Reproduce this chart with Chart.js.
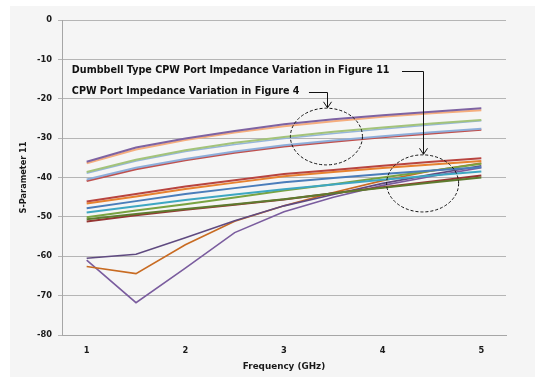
<!DOCTYPE html>
<html>
<head>
<meta charset="utf-8">
<script src="https://cdn.jsdelivr.net/npm/chart.js@4.4.1/dist/chart.umd.min.js"></script>
<style>
  html, body { margin: 0; padding: 0; background: #ffffff; }
  #frame { position: absolute; left: 10px; top: 6px; width: 525px; height: 371px; background: #f5f5f5; }
  canvas { display: block; }
</style>
</head>
<body>
<div id="frame"><canvas id="chart" width="525" height="371"></canvas></div>
<script>
// Frequency sweep points (GHz)
const freqGHz = [1, 1.5, 2, 2.5, 3, 3.5, 4, 4.5, 5];
const xTickValues = [1, 2, 3, 4, 5];
const yTickValues = [0, -10, -20, -30, -40, -50, -60, -70, -80];

// CPW port impedance variation (Figure 4) - S11 in dB
const cpwPurple     = [-36.0, -32.4, -30.1, -28.2, -26.5, -25.2, -24.2, -23.3, -22.4];
const cpwPeach      = [-36.4, -32.9, -30.5, -28.6, -27.0, -25.7, -24.6, -23.7, -22.9];
const cpwGreen      = [-38.6, -35.5, -33.1, -31.2, -29.7, -28.4, -27.3, -26.3, -25.4];
const cpwSkyBlue    = [-38.9, -35.8, -33.4, -31.6, -30.1, -28.8, -27.7, -26.6, -25.6];
const cpwBlue       = [-40.5, -37.5, -35.3, -33.4, -31.8, -30.6, -29.5, -28.5, -27.6];
const cpwRed        = [-40.9, -37.9, -35.6, -33.7, -32.1, -30.9, -29.8, -28.8, -27.9];

// Dumbbell type CPW port impedance variation (Figure 11) - S11 in dB
const dbRed         = [-46.1, -44.2, -42.3, -40.7, -39.1, -38.1, -37.0, -36.0, -35.1];
const dbOrange      = [-46.6, -44.8, -42.9, -41.3, -39.7, -38.6, -37.6, -36.7, -35.8];
const dbBlue        = [-47.8, -46.0, -44.2, -42.7, -41.2, -40.1, -39.1, -38.2, -37.4];
const dbCyan        = [-48.9, -47.3, -45.7, -44.3, -43.0, -41.8, -40.6, -39.5, -38.5];
const dbGreen       = [-50.1, -48.4, -46.8, -45.1, -43.3, -41.7, -40.0, -38.3, -36.5];
const dbOlive       = [-50.6, -49.3, -48.0, -46.8, -45.5, -44.0, -42.6, -41.3, -40.0];
const dbDarkRed     = [-51.2, -49.6, -48.2, -46.9, -45.6, -44.0, -42.5, -41.0, -39.5];
const dbPurpleDark  = [-60.5, -59.5, -55.3, -51.0, -47.2, -44.3, -41.5, -39.2, -37.0];
const dbBurntOrange = [-62.6, -64.4, -57.1, -51.1, -47.2, -43.8, -40.8, -38.3, -36.3];
const dbPurple      = [-61.0, -71.8, -63.0, -54.0, -48.7, -45.0, -42.0, -39.7, -37.5];

// Annotation captions and their anchors (data units)
const noteDumbbell = 'Dumbbell Type CPW Port Impedance Variation in Figure 11';
const noteCpw = 'CPW Port Impedance Variation in Figure 4';

const seriesList = [
  { data: cpwPurple,     color: '#7E63A2', width: 2 },
  { data: cpwPeach,      color: '#F6AE7E', width: 2 },
  { data: cpwGreen,      color: '#A3C37A', width: 2 },
  { data: cpwSkyBlue,    color: '#95B5DB', width: 1.5 },
  { data: cpwBlue,       color: '#8DAEDA', width: 2 },
  { data: cpwRed,        color: '#C0504D', width: 2 },
  { data: dbRed,         color: '#B8443F', width: 2 },
  { data: dbOrange,      color: '#E7822F', width: 2 },
  { data: dbBlue,        color: '#4A7DBA', width: 2 },
  { data: dbCyan,        color: '#3EA7C2', width: 2 },
  { data: dbGreen,       color: '#79A341', width: 2 },
  { data: dbOlive,       color: '#5E7B2F', width: 2 },
  { data: dbDarkRed,     color: '#953533', width: 2 },
  { data: dbPurpleDark,  color: '#5F4A80', width: 1.6 },
  { data: dbBurntOrange, color: '#C86B22', width: 1.6 },
  { data: dbPurple,      color: '#7A5C9E', width: 1.6 }
];

const datasets = seriesList.map(s => ({
  data: freqGHz.map((f, i) => ({ x: f, y: s.data[i] })),
  borderColor: s.color,
  backgroundColor: s.color,
  borderWidth: s.width,
  pointRadius: 0,
  tension: 0,
  fill: false
}));

// Callout marks: captions, elbow arrows and dashed ellipses
const callouts = {
  textX: 0.85,
  dumbbell: { textY: -12.88, arrowFromX: 4.196, arrowX: 4.405, arrowToY: -34.1 },
  cpw:      { textY: -18.2,  arrowFromX: 3.253, arrowX: 3.432, arrowToY: -22.3 },
  ellipses: [
    { cx: 3.43,  cy: -29.6, rx: 0.365, ry: 7.2 },
    { cx: 4.405, cy: -41.5, rx: 0.365, ry: 7.25 }
  ]
};

const calloutPlugin = {
  id: 'callouts',
  afterDatasetsDraw(chart) {
    const { ctx, scales: { x, y } } = chart;
    ctx.save();
    ctx.fillStyle = '#111111';
    ctx.strokeStyle = '#111111';
    ctx.font = 'bold 9.6px "DejaVu Sans"';
    ctx.textBaseline = 'middle';
    ctx.textAlign = 'left';
    const tx = x.getPixelForValue(callouts.textX);
    ctx.fillText(noteDumbbell, tx, y.getPixelForValue(callouts.dumbbell.textY));
    ctx.fillText(noteCpw, tx, y.getPixelForValue(callouts.cpw.textY));

    const drawArrow = (a) => {
      const yy = Math.round(y.getPixelForValue(a.textY)) + 0.5;
      const x0 = x.getPixelForValue(a.arrowFromX);
      const x1 = Math.round(x.getPixelForValue(a.arrowX)) + 0.5;
      const y1 = y.getPixelForValue(a.arrowToY);
      ctx.lineWidth = 1;
      ctx.setLineDash([]);
      ctx.beginPath();
      ctx.moveTo(x0, yy);
      ctx.lineTo(x1, yy);
      ctx.lineTo(x1, y1);
      ctx.stroke();
      ctx.beginPath();
      ctx.moveTo(x1 - 4, y1 - 6);
      ctx.lineTo(x1, y1);
      ctx.lineTo(x1 + 4, y1 - 6);
      ctx.stroke();
    };
    drawArrow(callouts.dumbbell);
    drawArrow(callouts.cpw);

    ctx.setLineDash([3, 2]);
    ctx.lineWidth = 1;
    callouts.ellipses.forEach(e => {
      const cx = x.getPixelForValue(e.cx);
      const cy = y.getPixelForValue(e.cy);
      const rx = Math.abs(x.getPixelForValue(e.cx + e.rx) - cx);
      const ry = Math.abs(y.getPixelForValue(e.cy + e.ry) - cy);
      ctx.beginPath();
      ctx.ellipse(cx, cy, rx, ry, 0, 0, Math.PI * 2);
      ctx.stroke();
    });
    ctx.restore();
  }
};

const tickFont = { family: '"DejaVu Sans"', size: 8.3, weight: 'bold' };

new Chart(document.getElementById('chart'), {
  type: 'line',
  data: { datasets },
  options: {
    responsive: false,
    animation: false,
    layout: { padding: { top: 14, right: 29, left: 0, bottom: 0 } },
    plugins: { legend: { display: false }, tooltip: { enabled: false } },
    scales: {
      x: {
        type: 'linear',
        min: 0.75,
        max: 5.25,
        afterBuildTicks: (scale) => { scale.ticks = xTickValues.map(v => ({ value: v })); },
        afterFit: (scale) => { scale.height = 42; },
        grid: { display: false, drawTicks: false },
        border: { display: true, color: '#a6a6a6', width: 1 },
        ticks: { font: tickFont, color: '#1a1a1a', padding: 11, maxRotation: 0 },
        title: {
          display: true,
          text: 'Frequency (GHz)',
          font: { family: '"DejaVu Sans"', size: 8.8, weight: 'bold' },
          color: '#1a1a1a',
          padding: { top: 0, bottom: 5 }
        }
      },
      y: {
        min: -80,
        max: 0,
        afterBuildTicks: (scale) => { scale.ticks = yTickValues.map(v => ({ value: v })); },
        afterFit: (scale) => { scale.width = 52; },
        grid: { color: '#b5b5b5', lineWidth: 1, tickLength: 4, drawTicks: true },
        border: { display: true, color: '#a6a6a6', width: 1 },
        ticks: { font: tickFont, color: '#1a1a1a', padding: 6 },
        title: {
          display: true,
          text: 'S-Parameter 11',
          font: { family: '"DejaVu Sans"', size: 8.2, weight: 'bold' },
          color: '#1a1a1a',
          padding: { top: 9, bottom: 0 }
        }
      }
    }
  },
  plugins: [calloutPlugin]
});
</script>
</body>
</html>
